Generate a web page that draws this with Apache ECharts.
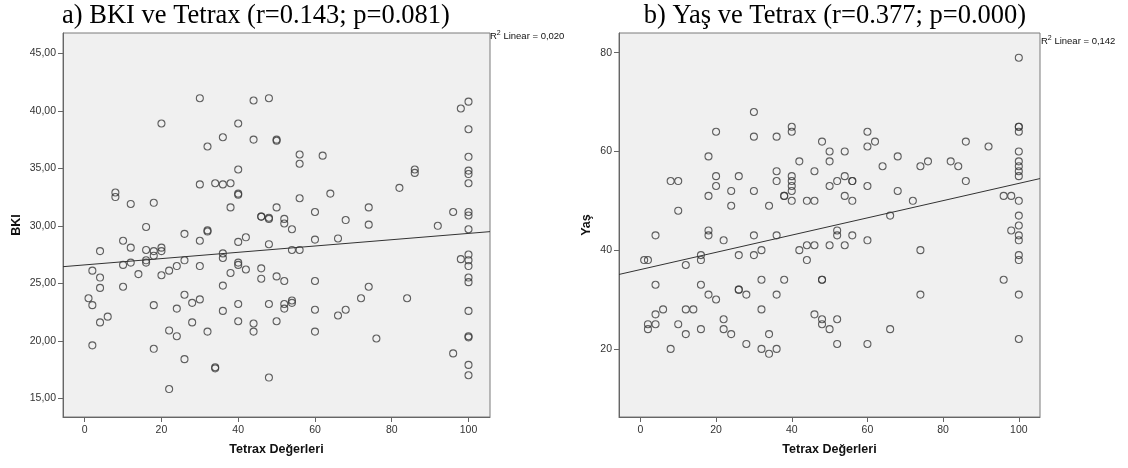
<!DOCTYPE html>
<html>
<head>
<meta charset="utf-8">
<script src="https://cdn.jsdelivr.net/npm/echarts@6/dist/echarts.min.js"></script>
<style>
html,body{margin:0;padding:0;background:#fff}
#chart{width:1128px;height:468px}
</style>
</head>
<body>
<div id="chart"></div>
<script>
// a) BKI vs Tetrax
var bkiTetrax = [30,20,44,48,40,36,44,50,50,32,40,8,8,12,18,30,34,36,38,40,40,38,46,46,48,50,16,26,32,32,42,10,30,40,
    12,4,16,18,20,20,18,16,16,26,48,10,12,2,4,4,14,20,22,24,30,36,36,38,40,40,42,46,46,50,36,1,2,10,26,28,30,18,24,36,40,48,4,6,28,40,44,44,50,22,24,32,2,18,26,34,34,48,22,
    100,98,100,56,56,62,100,86,86,100,100,100,82,56,64,60,74,52,52,54,68,74,92,96,100,100,100,48,
    60,66,54,56,98,100,100,100,100,100,52,60,74,72,84,52,52,54,54,60,66,68,100,60,76,100,100,96,100,100];
var bkiValues = [41.1,38.9,40.9,41.1,38.9,37.7,37.5,37.5,37.4,36.9,34.9,32.9,32.5,31.9,32.0,33.6,33.7,33.6,33.7,32.8,32.7,31.6,30.8,30.8,30.7,31.6,29.9,29.3,29.6,29.5,29.0,28.7,28.7,28.6,
    28.1,27.8,27.9,27.8,28.1,27.8,27.4,27.0,26.8,27.0,28.4,26.6,26.8,26.1,25.5,24.6,25.8,25.7,26.1,26.5,26.5,27.6,27.2,25.9,26.8,26.6,26.2,26.3,25.4,25.6,24.8,23.7,23.1,24.7,24.0,23.3,23.6,23.1,22.8,22.6,23.2,23.2,21.6,22.1,21.6,21.7,21.5,20.8,21.7,20.9,20.4,20.8,19.6,19.3,18.4,17.7,17.6,16.8,15.8,
    40.8,40.2,38.4,36.2,35.4,36.1,36.0,34.9,34.6,34.8,34.5,33.7,33.3,32.4,32.8,31.2,31.6,30.6,30.2,29.7,30.5,30.1,30.0,31.2,31.2,30.9,29.7,30.6,
    28.8,28.9,27.9,27.9,27.1,27.5,27.0,26.5,25.5,25.1,25.2,25.2,24.7,23.7,23.7,23.2,22.8,23.5,23.3,22.7,22.2,22.7,22.6,20.8,20.2,20.4,20.3,18.9,17.9,17.0];

// b) Yaş vs Tetrax
var yasTetrax = [4,8,10,10,18,20,20,20,18,24,26,24,18,18,22,30,30,30,30,36,36,36,34,36,40,40,40,40,40,40,40,38,38,42,44,46,46,48,50,50,50,52,54,54,54,52,52,
    100,100,100,100,100,100,100,100,100,96,98,100,100,100,98,86,92,60,60,62,68,64,74,76,82,84,56,56,60,86,68,56,72,66,56,60,
    1,2,12,16,16,26,30,32,42,44,46,50,54,44,4,16,18,20,26,26,28,32,36,38,48,48,4,4,2,2,6,12,14,10,12,16,8,22,22,24,28,32,32,34,36,34,46,48,48,50,52,52,
    100,100,100,100,74,96,74,100,66,60,100];
var yasValues = [43,54,54,48,59,64,55,53,51,52,55,49,44,43,42,68,63,52,43,63,56,54,49,43,65,64,55,54,53,52,50,51,51,58,50,50,56,62,60,58,53,54,60,55,51,44,43,
    79,65,65,64,60,58,57,56,55,51,51,50,47,45,44,62,61,64,61,62,59,57,57,58,58,57,54,54,53,54,52,50,50,47,43,42,
    38,38,37,39,38,39,39,40,40,41,41,41,41,38,33,33,31,30,32,32,31,34,31,34,34,34,27,25,25,24,28,28,28,25,23,24,20,26,24,23,21,28,20,19,20,23,27,26,25,24,26,21,
    43,42,39,38,40,34,31,31,24,21,22];

// linear fit lines: [intercept, slope]
var bkiFit = [26.6, 0.0274];
var yasFit = [36.07, 0.1746];

var xTicks = [0, 20, 40, 60, 80, 100];
var bkiTicks = [15, 20, 25, 30, 35, 40, 45];
var yasTicks = [20, 40, 60, 80];

var xRange = [-5.65, 105.6];
var bkiRange = [13.37, 46.77];
var yasRange = [6.2, 84];

function zip(xs, ys) {
    var out = [];
    for (var i = 0; i < xs.length; i++) out.push([xs[i], ys[i]]);
    return out;
}
function fitLine(fit) {
    return [
        [xRange[0], fit[0] + fit[1] * xRange[0]],
        [xRange[1], fit[0] + fit[1] * xRange[1]]
    ];
}

var chart = echarts.init(document.getElementById('chart'));

var labelFont = {fontFamily: 'Liberation Sans', fontSize: 10.5, color: '#333'};
var nameFont = {fontFamily: 'Liberation Sans', fontSize: 12.5, fontWeight: 'bold', color: '#111'};
var lineCol = '#666';

function xAxis(idx) {
    return {
        gridIndex: idx, type: 'value', min: xRange[0], max: xRange[1],
        name: 'Tetrax Değerleri', nameLocation: 'middle', nameGap: 26,
        nameTextStyle: nameFont,
        splitLine: {show: false},
        axisLine: {show: true, onZero: false, lineStyle: {color: lineCol}},
        axisTick: {show: true, length: 5, customValues: xTicks, lineStyle: {color: lineCol}},
        axisLabel: Object.assign({customValues: xTicks, margin: 8}, labelFont)
    };
}
function yAxis(idx, rng, ticks, name, gap, fmt) {
    return {
        gridIndex: idx, type: 'value', min: rng[0], max: rng[1],
        name: name, nameLocation: 'middle', nameGap: gap, nameRotate: 90,
        nameTextStyle: nameFont,
        splitLine: {show: false},
        axisLine: {show: true, onZero: false, lineStyle: {color: lineCol}},
        axisTick: {show: true, length: 5, customValues: ticks, lineStyle: {color: lineCol}},
        axisLabel: Object.assign({customValues: ticks, margin: 7, formatter: fmt}, labelFont)
    };
}
function scatter(idx, data) {
    return {
        type: 'scatter', xAxisIndex: idx, yAxisIndex: idx, data: data,
        symbol: 'circle', symbolSize: 7,
        itemStyle: {color: 'rgba(0,0,0,0)', borderColor: '#3a3a3a', borderWidth: 1.1},
        emphasis: {disabled: true}, z: 3
    };
}
function fit(idx, data) {
    return {
        type: 'line', xAxisIndex: idx, yAxisIndex: idx, data: data,
        symbol: 'none', lineStyle: {color: '#333', width: 1}, z: 2, silent: true
    };
}

var titleFont = '26.5px "Liberation Serif"';
var r2Rich = {sup: {fontSize: 7, verticalAlign: 'top', padding: [0, 0, 5, 0], fontFamily: 'Liberation Sans', fill: '#111'}};

var option = {
    animation: false,
    backgroundColor: '#fff',
    grid: [
        {left: 63, top: 33, width: 427, height: 384, show: true, backgroundColor: '#f0f0f0', borderColor: '#7a7a7a', borderWidth: 1},
        {left: 619, top: 33, width: 421, height: 384, show: true, backgroundColor: '#f0f0f0', borderColor: '#7a7a7a', borderWidth: 1}
    ],
    xAxis: [xAxis(0), xAxis(1)],
    yAxis: [
        yAxis(0, bkiRange, bkiTicks, 'BKI', 40, function (v) { return v.toFixed(2).replace('.', ','); }),
        yAxis(1, yasRange, yasTicks, 'Yaş', 26, function (v) { return String(v); })
    ],
    graphic: [
        {type: 'text', x: 256, y: 16, style: {text: 'a) BKI ve Tetrax (r=0.143; p=0.081)', font: titleFont, fill: '#000', textAlign: 'center', textVerticalAlign: 'middle'}},
        {type: 'text', x: 835, y: 16, style: {text: 'b) Yaş ve Tetrax (r=0.377; p=0.000)', font: titleFont, fill: '#000', textAlign: 'center', textVerticalAlign: 'middle'}},
        {type: 'text', x: 490, y: 36, style: {text: 'R{sup|2} Linear = 0,020', rich: r2Rich, font: '9.5px "Liberation Sans"', fill: '#111', textVerticalAlign: 'middle'}},
        {type: 'text', x: 1041, y: 41, style: {text: 'R{sup|2} Linear = 0,142', rich: r2Rich, font: '9.5px "Liberation Sans"', fill: '#111', textVerticalAlign: 'middle'}}
    ],
    series: [
        scatter(0, zip(bkiTetrax, bkiValues)),
        fit(0, fitLine(bkiFit)),
        scatter(1, zip(yasTetrax, yasValues)),
        fit(1, fitLine(yasFit))
    ]
};

if (option && typeof option === 'object') {
    chart.setOption(option, true);
}
</script>
</body>
</html>
